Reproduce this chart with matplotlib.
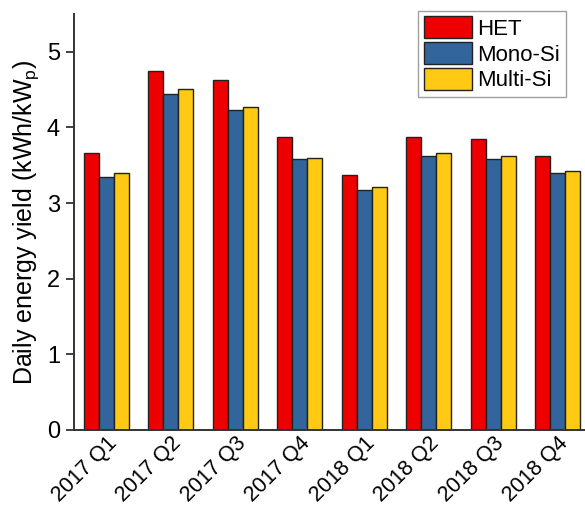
import matplotlib
matplotlib.use("Agg")
import matplotlib.pyplot as plt
import matplotlib.transforms as mtransforms
import numpy as np

plt.rcParams['font.family'] = ['Liberation Sans', 'DejaVu Sans']

quarters = ["2017 Q1", "2017 Q2", "2017 Q3", "2017 Q4",
            "2018 Q1", "2018 Q2", "2018 Q3", "2018 Q4"]
het = [3.66, 4.74, 4.63, 3.87, 3.37, 3.88, 3.85, 3.62]
mono_si = [3.34, 4.44, 4.23, 3.58, 3.17, 3.62, 3.58, 3.40]
multi_si = [3.40, 4.51, 4.27, 3.59, 3.21, 3.66, 3.62, 3.42]

series = [("HET", het, "#EE0000"),
          ("Mono-Si", mono_si, "#31659C"),
          ("Multi-Si", multi_si, "#FFC914")]

fig = plt.figure(figsize=(5.85, 5.09), dpi=100)
ax = fig.add_axes([74 / 585, 79 / 509, (585 - 74) / 585, (430 - 14) / 509])

x = np.arange(len(quarters))
w = 0.233
for i, (name, vals, color) in enumerate(series):
    ax.bar(x + (i - 1) * w, vals, width=w, color=color,
           edgecolor="#222222", linewidth=1.0, label=name)

ax.set_xlim(-0.5, 7.42)
ax.set_ylim(0, 5.5)
ax.set_yticks([0, 1, 2, 3, 4, 5])
ax.set_xticks(x)
ax.set_xticklabels(quarters, rotation=45, ha="right", rotation_mode="anchor",
                   fontsize=15.5)
shift = mtransforms.ScaledTranslation(15 / 100, 0, fig.dpi_scale_trans)
for lbl in ax.get_xticklabels():
    lbl.set_transform(lbl.get_transform() + shift)
ax.tick_params(axis="x", length=0, pad=2)
ax.tick_params(axis="y", length=6, width=1.3, labelsize=17, color="#333333",
               pad=4)
for side in ["top", "right"]:
    ax.spines[side].set_visible(False)
for side in ["left", "bottom"]:
    ax.spines[side].set_linewidth(1.4)
    ax.spines[side].set_color("#333333")

ax.set_ylabel("Daily energy yield (kWh/kW$_\\mathregular{p}$)", fontsize=18,
              labelpad=4)

leg = ax.legend(loc="upper right", bbox_to_anchor=(0.962, 1.008),
                fontsize=16, frameon=True, fancybox=False,
                handlelength=2.15, handleheight=1.15, labelspacing=0.1,
                handletextpad=0.25, borderpad=0.25, borderaxespad=0.0)
leg.get_frame().set_edgecolor("#888888")
leg.get_frame().set_linewidth(1.0)

fig.savefig("out.png", dpi=100)
